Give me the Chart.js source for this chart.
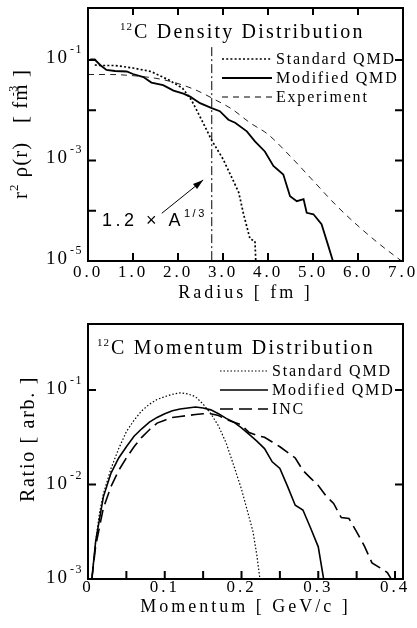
<!DOCTYPE html>
<html>
<head>
<meta charset="utf-8">
<script src="https://cdn.jsdelivr.net/npm/chart.js@4.4.0/dist/chart.umd.min.js"></script>
<style>
  html, body { margin: 0; padding: 0; background: #fff; }
  canvas { display: block; }
</style>
</head>
<body>
<canvas id="density" width="417" height="314"></canvas>
<canvas id="momentum" width="417" height="314"></canvas>
<script>
// ---- 12C density distribution: radius [fm] vs r^2 rho(r) [fm^-3]
var stdRadius = [0.15, 0.3, 0.6, 1.0, 1.4, 1.8, 2.1, 2.3, 2.5, 2.75, 3.0, 3.25, 3.35, 3.45, 3.6, 3.71, 3.73];
var stdDensity = [0.0794, 0.0776, 0.0776, 0.0692, 0.0589, 0.0398, 0.0275, 0.0158, 0.00708, 0.00251, 0.00107, 3.6e-4, 2.3e-4, 9.1e-5, 2.75e-5, 2.5e-5, 9e-6];

var modRadius = [0.05, 0.15, 0.27, 0.41, 0.6, 0.86, 1.0, 1.23, 1.41, 1.67, 1.9, 2.12, 2.27, 2.49, 2.75, 2.93, 3.12, 3.27, 3.53, 3.71, 3.93, 4.12, 4.34, 4.49, 4.64, 4.79, 4.86, 5.01, 5.19, 5.34, 5.45];
var modDensity = [0.102, 0.102, 0.0794, 0.0631, 0.0603, 0.0589, 0.0525, 0.0457, 0.0355, 0.0316, 0.0245, 0.0214, 0.0186, 0.0138, 0.011, 0.00955, 0.00646, 0.00562, 0.0038, 0.0024, 0.00151, 7.76e-4, 5.25e-4, 1.95e-4, 1.55e-4, 1.7e-4, 9.1e-5, 8.5e-5, 5.4e-5, 2.0e-5, 9.5e-6];

var expRadius = [0, 0.5, 0.8, 1.2, 1.6, 2.0, 2.4, 2.8, 3.2, 3.6, 4.0, 4.5, 5.0, 5.5, 6.0, 6.5, 7.0];
var expDensity = [0.0513, 0.0513, 0.0501, 0.0468, 0.0417, 0.0339, 0.0251, 0.0166, 0.0105, 0.00562, 0.00331, 0.0012, 3.98e-4, 1.32e-4, 5.0e-5, 2.09e-5, 9.5e-6];

var ringRadius = 2.75;          // 1.2 x A^(1/3), A = 12
var ringSpan = [0.18, 1e-5];
var arrowFrom = [1.64, 8.9e-5];
var arrowTo = [2.56, 4.1e-4];
var noteAt = [0.31, 5.0e-5];

var densXTicks = [0, 1, 2, 3, 4, 5, 6, 7];
var densYTicks = [1e-5, 1e-4, 1e-3, 1e-2, 1e-1];
var densYLabels = [-1, -3, -5];

// ---- 12C momentum distribution: momentum [GeV/c] vs ratio [arb.]
var stdMom = [0.005, 0.01, 0.015, 0.02, 0.03, 0.04, 0.05, 0.06, 0.07, 0.08, 0.09, 0.10, 0.11, 0.12, 0.13, 0.14, 0.15, 0.16, 0.17, 0.18, 0.19, 0.20, 0.21, 0.215, 0.22, 0.224];
var stdRatio = [0.001, 0.00251, 0.00501, 0.00794, 0.0148, 0.024, 0.0363, 0.0479, 0.0603, 0.0708, 0.0794, 0.0851, 0.0902, 0.0933, 0.0912, 0.0851, 0.0708, 0.0562, 0.0417, 0.0275, 0.0158, 0.00891, 0.00447, 0.00316, 0.00178, 0.001];

var modMom = [0.005, 0.01, 0.02, 0.03, 0.04, 0.05, 0.06, 0.07, 0.08, 0.09, 0.10, 0.11, 0.12, 0.13, 0.14, 0.15, 0.16, 0.17, 0.18, 0.19, 0.20, 0.21, 0.22, 0.23, 0.24, 0.25, 0.26, 0.27, 0.28, 0.29, 0.30, 0.307];
var modRatio = [0.001, 0.00251, 0.00741, 0.0132, 0.0191, 0.0251, 0.0324, 0.0389, 0.0457, 0.0513, 0.0562, 0.0603, 0.0631, 0.0646, 0.0661, 0.0646, 0.0617, 0.0562, 0.0501, 0.0457, 0.0398, 0.0339, 0.0288, 0.024, 0.0174, 0.0148, 0.00955, 0.00603, 0.00537, 0.00347, 0.00219, 0.001];

var incMom = [0.005, 0.01, 0.02, 0.03, 0.04, 0.05, 0.06, 0.07, 0.08, 0.09, 0.10, 0.11, 0.12, 0.13, 0.14, 0.15, 0.16, 0.17, 0.18, 0.19, 0.20, 0.21, 0.22, 0.23, 0.24, 0.25, 0.26, 0.27, 0.28, 0.29, 0.30, 0.31, 0.32, 0.33, 0.34, 0.35, 0.36, 0.37, 0.38, 0.39, 0.395];
var incRatio = [0.001, 0.00224, 0.00562, 0.00955, 0.0141, 0.0191, 0.0251, 0.0316, 0.038, 0.0447, 0.0479, 0.0513, 0.0525, 0.0537, 0.055, 0.0562, 0.0562, 0.0537, 0.049, 0.0457, 0.0427, 0.0355, 0.0331, 0.0316, 0.0282, 0.0251, 0.0219, 0.0191, 0.0141, 0.0117, 0.00977, 0.00759, 0.00631, 0.00447, 0.00437, 0.00316, 0.00224, 0.00148, 0.00132, 0.00117, 0.001];

var momXTicks = [0, 0.05, 0.1, 0.15, 0.2, 0.25, 0.3, 0.35, 0.4];
var momXLabels = [0, 0.1, 0.2, 0.3, 0.4];
var momYTicks = [1e-3, 1e-2, 1e-1];
var momYLabels = [-1, -2, -3];

var SERIF = '"Liberation Serif", "Times New Roman", serif';
var SANS = '"Liberation Sans", Arial, sans-serif';

function pairs(xs, ys) {
    return xs.map(function (x, i) { return {x: x, y: ys[i]}; });
}

// text runs: [text, size, rise, spacing, family, dx]
function setRun(ctx, r) {
    ctx.font = r[1] + 'px ' + (r[4] || SERIF);
    ctx.letterSpacing = (r[3] || 0) + 'px';
}
function drawRuns(ctx, runs, x, y, align) {
    var total = 0;
    runs.forEach(function (r) { setRun(ctx, r); total += (r[5] || 0) + ctx.measureText(r[0]).width; });
    if (align === 'right') x -= total;
    else if (align === 'center') x -= total / 2;
    ctx.textAlign = 'left';
    ctx.textBaseline = 'alphabetic';
    runs.forEach(function (r) {
        setRun(ctx, r);
        x += r[5] || 0;
        ctx.fillText(r[0], x, y - r[2]);
        x += ctx.measureText(r[0]).width;
    });
}

function makeFrame(cfg) {
    return {
        id: 'frame',
        beforeDraw: function (chart) {
            chart.ctx.letterSpacing = '3px';
        },
        afterDraw: function (chart) {
            var ctx = chart.ctx, a = chart.chartArea;
            var xs = chart.scales.x, ys = chart.scales.y;
            ctx.save();
            ctx.fillStyle = '#000';
            ctx.strokeStyle = '#000';
            ctx.lineWidth = 2;
            ctx.setLineDash([]);
            ctx.beginPath();
            cfg.xTicks.forEach(function (v) {
                var px = xs.getPixelForValue(v);
                ctx.moveTo(px, a.bottom); ctx.lineTo(px, a.bottom - 8);
                if (cfg.topTicks) { ctx.moveTo(px, a.top); ctx.lineTo(px, a.top + 7); }
            });
            cfg.yTicks.forEach(function (v) {
                var py = ys.getPixelForValue(v);
                ctx.moveTo(a.left, py); ctx.lineTo(a.left + 8, py);
                ctx.moveTo(a.right, py); ctx.lineTo(a.right - 8, py);
            });
            ctx.stroke();
            ctx.strokeRect(a.left, a.top, a.right - a.left, a.bottom - a.top);

            // y tick labels 10^n
            cfg.yLabels.forEach(function (e) {
                var py = ys.getPixelForValue(Math.pow(10, e));
                drawRuns(ctx, [['10', 19, 0, 2], [String(e), 12, 10, 1.5, null, 1]], a.left - 5, py + cfg.labelDrop, 'right');
            });

            // title inside the plot
            drawRuns(ctx, [['12', 11, 8, 1], [cfg.title, 20, 0, 2.2, null, 1]], cfg.titleX, a.top + 30, 'left');

            // legend
            var rowY = cfg.legendY;
            chart.data.datasets.forEach(function (ds) {
                if (!ds.label) return;
                ctx.save();
                ctx.lineWidth = ds.borderWidth;
                ctx.setLineDash(ds.borderDash || []);
                ctx.beginPath();
                ctx.moveTo(cfg.legendX0, rowY);
                ctx.lineTo(cfg.legendX1, rowY);
                ctx.stroke();
                ctx.restore();
                drawRuns(ctx, [[ds.label, 16, 0, 1.8]], cfg.legendX1 + 4, rowY + 5, 'left');
                rowY += 19;
            });

            // vertical axis title
            ctx.save();
            ctx.translate(cfg.yTitleX + 7, cfg.yTitleY);
            ctx.rotate(-Math.PI / 2);
            drawRuns(ctx, cfg.yTitle, 0, 0, 'center');
            ctx.restore();

            if (cfg.note) cfg.note(ctx, chart);
            ctx.restore();
            ctx.letterSpacing = '0px';
        }
    };
}

function densityNote(ctx, chart) {
    var xs = chart.scales.x, ys = chart.scales.y;
    var x0 = xs.getPixelForValue(arrowFrom[0]), y0 = ys.getPixelForValue(arrowFrom[1]);
    var x1 = xs.getPixelForValue(arrowTo[0]), y1 = ys.getPixelForValue(arrowTo[1]);
    var ang = Math.atan2(y1 - y0, x1 - x0);
    ctx.beginPath();
    ctx.moveTo(x1, y1);
    ctx.lineTo(x1 - 11 * Math.cos(ang - 0.3), y1 - 11 * Math.sin(ang - 0.3));
    ctx.lineTo(x1 - 11 * Math.cos(ang + 0.3), y1 - 11 * Math.sin(ang + 0.3));
    ctx.closePath();
    ctx.fill();
    drawRuns(ctx, [['1.2 \u00d7 A', 18, 0, 3.5, SANS], ['1/3', 11, 9, 2.5, SANS, 0]],
        xs.getPixelForValue(noteAt[0]), ys.getPixelForValue(noteAt[1]), 'left');
}

function xScale(min, max, height, pad, ticks, fmt, title) {
    return {
        type: 'linear', min: min, max: max,
        afterBuildTicks: function (s) { s.ticks = ticks.map(function (v) { return {value: v}; }); },
        afterFit: function (s) { s.height = height; },
        ticks: {callback: fmt, font: {family: SERIF, size: 17}, color: '#000', padding: pad, maxRotation: 0, autoSkip: false},
        grid: {display: false, drawTicks: false},
        border: {display: false},
        title: {display: true, text: title, font: {family: SERIF, size: 18}, color: '#000', padding: {top: 0, bottom: 10}}
    };
}
function yScale(min, max) {
    return {
        type: 'logarithmic', min: min, max: max,
        afterFit: function (s) { s.width = 88; },
        ticks: {display: false},
        grid: {display: false, drawTicks: false},
        border: {display: false}
    };
}
function line(label, xs, ys, width, dash, color) {
    return {label: label, data: pairs(xs, ys), borderColor: color || '#000', borderWidth: width,
        borderDash: dash, pointRadius: 0, fill: false, tension: 0};
}

var expLine = line('Experiment', expRadius, expDensity, 1, [6, 5], '#222');
expLine.cubicInterpolationMode = 'monotone';

new Chart(document.getElementById('density'), {
    type: 'line',
    data: {
        datasets: [
            line('Standard QMD', stdRadius, stdDensity, 1.7, [2, 2.2]),
            line('Modified QMD', modRadius, modDensity, 1.8, []),
            expLine,
            line('', [ringRadius, ringRadius], ringSpan, 1, [9, 3, 2, 3]),
            line('', [arrowFrom[0], arrowTo[0]], [arrowFrom[1], arrowTo[1]], 1, [])
        ]
    },
    options: {
        responsive: false,
        animation: false,
        layout: {padding: {top: 8, right: 14, left: 0, bottom: 0}},
        plugins: {legend: {display: false}, tooltip: {enabled: false}},
        scales: {
            x: xScale(0, 7, 53, 1, densXTicks, function (v) { return v.toFixed(1); }, 'Radius [ fm ]'),
            y: yScale(1e-5, 1.08)
        }
    },
    plugins: [makeFrame({
        xTicks: densXTicks, yTicks: densYTicks, yLabels: densYLabels, topTicks: true, labelDrop: 3,
        title: 'C Density Distribution', titleX: 120,
        legendX0: 222, legendX1: 272, legendY: 59,
        yTitleX: 20, yTitleY: 134,
        yTitle: [['r', 21, 0, 1], ['2', 13, 9, 1], [' \u03c1(r)   [ f', 21, 0, 1], ['m', 21, 0, 1],
                 ['-3', 12, 10, 0.5, null, -13], [' ]', 21, 0, 1, null, 2]],
        note: densityNote
    })]
});

new Chart(document.getElementById('momentum'), {
    type: 'line',
    data: {
        datasets: [
            line('Standard QMD', stdMom, stdRatio, 1.2, [1.5, 2]),
            line('Modified QMD', modMom, modRatio, 1.6, []),
            line('INC', incMom, incRatio, 1.6, [13, 6])
        ]
    },
    options: {
        responsive: false,
        animation: false,
        layout: {padding: {top: 10, right: 14, left: 0, bottom: 0}},
        plugins: {legend: {display: false}, tooltip: {enabled: false}},
        scales: {
            x: xScale(0, 0.4104, 49, -2, momXLabels, function (v) { return v === 0 ? '0' : v.toFixed(1); }, 'Momentum [ GeV/c ]'),
            y: yScale(1e-3, 0.5)
        }
    },
    plugins: [makeFrame({
        xTicks: momXTicks, yTicks: momYTicks, yLabels: momYLabels, topTicks: false, labelDrop: 4,
        title: 'C Momentum Distribution', titleX: 97,
        legendX0: 220, legendX1: 268, legendY: 57,
        yTitleX: 27, yTitleY: 125,
        yTitle: [['Ratio [ arb. ]', 20, 0, 1.7]]
    })]
});
</script>
</body>
</html>
